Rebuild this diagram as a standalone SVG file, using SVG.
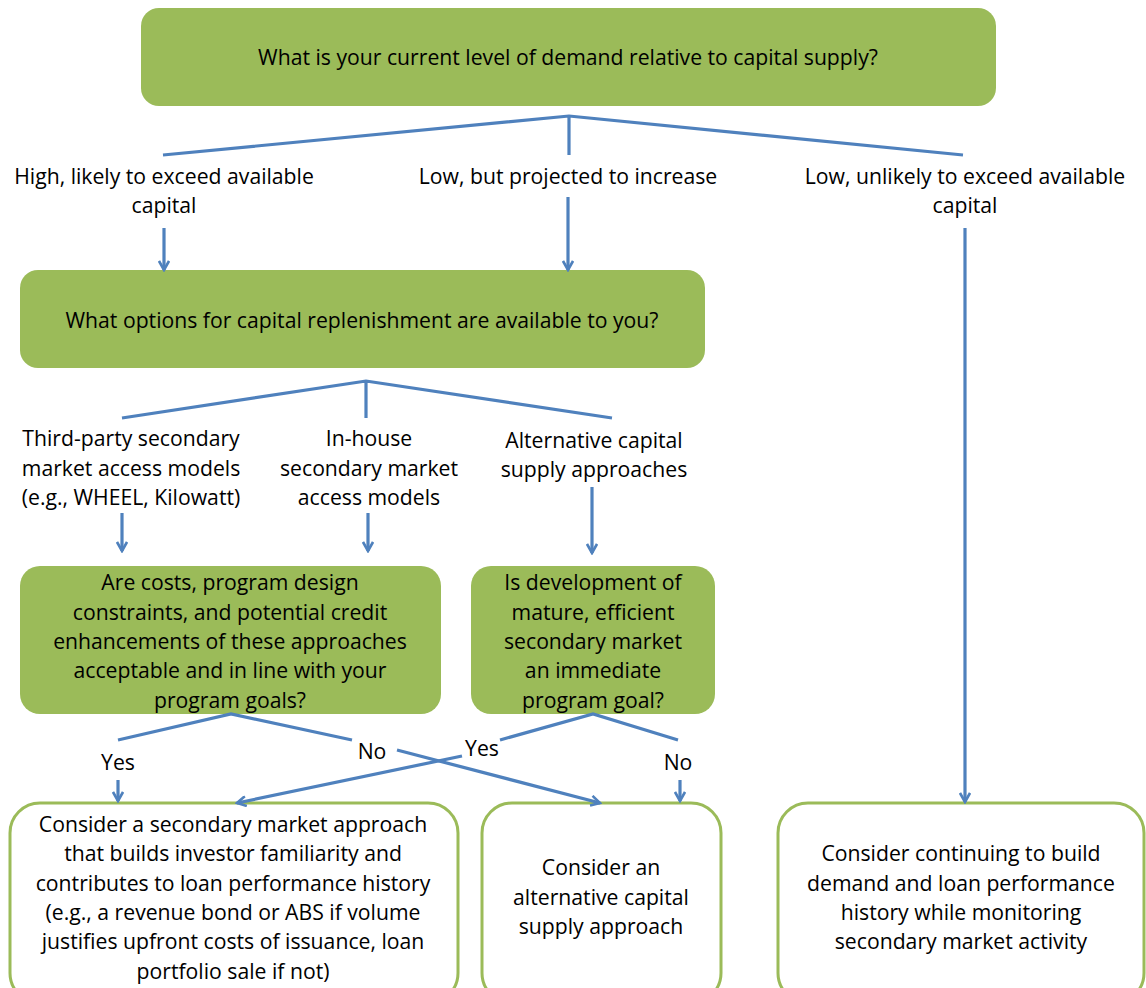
<svg xmlns="http://www.w3.org/2000/svg" width="1146" height="988" viewBox="0 0 1146 988">
<defs>
<style>
.q{fill:#9BBB59;}
.a{fill:#fff;stroke:#9BBB59;stroke-width:3;}
text{font-family:"Open Sans",Lato,"Liberation Sans",sans-serif;font-size:21.2px;fill:#000;text-anchor:middle;}
.c line,.c path{stroke:#4F81BD;stroke-width:3.2;fill:none;}
</style>
<marker id="ah" viewBox="0 0 12 12" refX="10" refY="6" markerWidth="12" markerHeight="12" markerUnits="userSpaceOnUse" orient="auto">
<path d="M1,1 L10,6 L1,11" fill="none" stroke="#4F81BD" stroke-width="2.6"/>
</marker>
</defs>
<rect width="1146" height="988" fill="#fff"/>

<g id="q1">
<rect class="q" x="141" y="8" width="855" height="98" rx="18"/>
<text x="568" y="65">What is your current level of demand relative to capital supply?</text>
</g>

<g id="q2">
<rect class="q" x="20" y="270" width="685" height="98" rx="18"/>
<text x="362" y="328">What options for capital replenishment are available to you?</text>
</g>

<g id="q3">
<rect class="q" x="20" y="566" width="421" height="148" rx="20"/>
<text x="230" y="590">Are costs, program design</text>
<text x="230" y="620">constraints, and potential credit</text>
<text x="230" y="649">enhancements of these approaches</text>
<text x="230" y="678">acceptable and in line with your</text>
<text x="230" y="708">program goals?</text>
</g>

<g id="q4">
<rect class="q" x="471" y="566" width="244" height="148" rx="20"/>
<text x="593" y="590">Is development of</text>
<text x="593" y="620">mature, efficient</text>
<text x="593" y="649">secondary market</text>
<text x="593" y="678">an immediate</text>
<text x="593" y="708">program goal?</text>
</g>

<g id="r1">
<rect class="a" x="10" y="803" width="448" height="200" rx="30"/>
<text x="233" y="832">Consider a secondary market approach</text>
<text x="233" y="861">that builds investor familiarity and</text>
<text x="233" y="891">contributes to loan performance history</text>
<text x="233" y="920">(e.g., a revenue bond or ABS if volume</text>
<text x="233" y="949">justifies upfront costs of issuance, loan</text>
<text x="233" y="979">portfolio sale if not)</text>
</g>

<g id="r2">
<rect class="a" x="482" y="803" width="239" height="200" rx="30"/>
<text x="601" y="875">Consider an</text>
<text x="601" y="905">alternative capital</text>
<text x="601" y="934">supply approach</text>
</g>

<g id="r3">
<rect class="a" x="778" y="803" width="366" height="200" rx="30"/>
<text x="961" y="861">Consider continuing to build</text>
<text x="961" y="891">demand and loan performance</text>
<text x="961" y="920">history while monitoring</text>
<text x="961" y="949">secondary market activity</text>
</g>

<g id="labels">
<text x="164" y="184">High, likely to exceed available</text>
<text x="164" y="213">capital</text>
<text x="568" y="184">Low, but projected to increase</text>
<text x="965" y="184">Low, unlikely to exceed available</text>
<text x="965" y="213">capital</text>
<text x="131" y="446">Third-party secondary</text>
<text x="131" y="476">market access models</text>
<text x="131" y="505">(e.g., WHEEL, Kilowatt)</text>
<text x="369" y="446">In-house</text>
<text x="369" y="476">secondary market</text>
<text x="369" y="505">access models</text>
<text x="594" y="448">Alternative capital</text>
<text x="594" y="477">supply approaches</text>
<text x="118" y="770">Yes</text>
<text x="372" y="759">No</text>
<text x="482" y="756">Yes</text>
<text x="678" y="770">No</text>
</g>

<g id="connectors" class="c">
<path d="M163,155 L569,116 L963,155 M569,116 L569,155"/>
<line x1="164" y1="228" x2="164" y2="270" marker-end="url(#ah)"/>
<line x1="568" y1="197" x2="568" y2="270" marker-end="url(#ah)"/>
<line x1="965" y1="228" x2="965" y2="802" marker-end="url(#ah)"/>
<path d="M122,418 L366,381 L612,418 M366,381 L366,418"/>
<line x1="122" y1="513" x2="122" y2="551" marker-end="url(#ah)"/>
<line x1="368" y1="513" x2="368" y2="551" marker-end="url(#ah)"/>
<line x1="592" y1="487" x2="592" y2="553" marker-end="url(#ah)"/>
<path d="M118,740 L231,714 L352,740"/>
<path d="M500,740 L593,714 L678,740"/>
<line x1="118" y1="780" x2="118" y2="801" marker-end="url(#ah)"/>
<line x1="680" y1="780" x2="680" y2="801" marker-end="url(#ah)"/>
<line x1="397" y1="750" x2="600" y2="803" marker-end="url(#ah)"/>
<line x1="462" y1="756" x2="237" y2="803" marker-end="url(#ah)"/>
</g>
</svg>
